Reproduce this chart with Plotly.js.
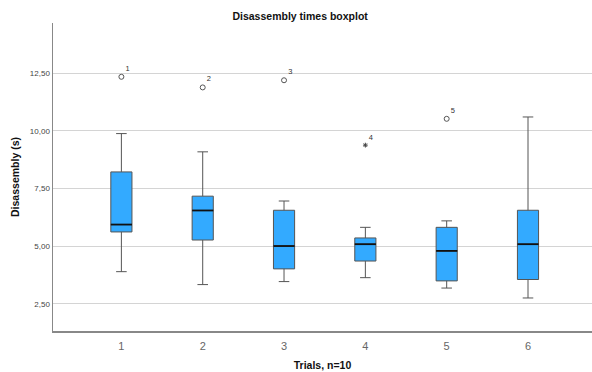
<!DOCTYPE html>
<html><head><meta charset="utf-8">
<script src="https://cdn.plot.ly/plotly-3.0.1.min.js"></script>
<style>html,body{margin:0;padding:0;background:#fff}#c{width:592px;height:372px}</style>
</head><body><div id="c"></div>
<script>
const trials = [1, 2, 3, 4, 5, 6];
const lowerWhisker = [3.90, 3.34, 3.47, 3.64, 3.19, 2.76];
const q1 = [5.62, 5.27, 4.02, 4.36, 3.50, 3.56];
const median = [5.94, 6.55, 5.01, 5.09, 4.80, 5.09];
const q3 = [8.22, 7.17, 6.56, 5.36, 5.82, 6.56];
const upperWhisker = [9.88, 9.09, 6.96, 5.82, 6.10, 10.60];
const outlierTrial = [1, 2, 3, 5];
const outlierValue = [12.34, 11.88, 12.19, 10.52];
const outlierLabel = ["1", "2", "3", "5"];
const extremeTrial = [4];
const extremeValue = [9.38];
const extremeLabel = ["4"];
const yTicks = [2.5, 5, 7.5, 10, 12.5];

const boxW = 0.26;
const traces = [];
trials.forEach((t, i) => {
  traces.push({
    type: 'box', x: [t], q1: [q1[i]], median: [median[i]], q3: [q3[i]],
    lowerfence: [lowerWhisker[i]], upperfence: [upperWhisker[i]],
    width: boxW, whiskerwidth: 0.5, boxpoints: false,
    fillcolor: '#33aaff', line: {color: '#555555', width: 1},
    showlegend: false, hoverinfo: 'skip'
  });
  traces.push({
    type: 'scatter', mode: 'lines',
    x: [t - boxW / 2, t + boxW / 2], y: [median[i], median[i]],
    line: {color: '#111111', width: 1.8}, showlegend: false, hoverinfo: 'skip'
  });
});
traces.push({
  type: 'scatter', mode: 'markers+text', x: outlierTrial, y: outlierValue,
  text: outlierLabel, textposition: 'top right',
  textfont: {family: 'Liberation Sans, Arial, sans-serif', size: 7.5, color: '#333'},
  marker: {symbol: 'circle-open', size: 5, color: '#555', line: {width: 1}},
  showlegend: false, hoverinfo: 'skip'
});
traces.push({
  type: 'scatter', mode: 'markers+text', x: extremeTrial, y: extremeValue,
  text: extremeLabel, textposition: 'top right',
  textfont: {family: 'Liberation Sans, Arial, sans-serif', size: 7.5, color: '#333'},
  marker: {symbol: 'asterisk-open', size: 4, color: '#444', line: {width: 1}},
  showlegend: false, hoverinfo: 'skip'
});

const layout = {
  width: 592, height: 372,
  margin: {l: 53, r: 0, t: 23, b: 41, pad: 0},
  paper_bgcolor: '#fff', plot_bgcolor: '#fff',
  separators: ',.',
  font: {family: 'Liberation Sans, Arial, sans-serif', color: '#333'},
  title: {text: '<b>Disassembly times boxplot</b>', x: 0.507, xanchor: 'center', y: 0.955, yanchor: 'middle',
          font: {size: 10.5, color: '#111'}},
  xaxis: {
    range: [0.159, 6.787], tickvals: trials, ticktext: trials.map(String),
    showgrid: false, zeroline: false, showline: true, linecolor: '#888', linewidth: 2,
    ticks: '', tickfont: {size: 11, color: '#666'}, ticklabelstandoff: 4,
    title: {text: '<b>Trials, n=10</b>', font: {size: 10.5, color: '#111'}, standoff: 10}
  },
  yaxis: {
    range: [1.33, 14.67], tickvals: yTicks, tickformat: '.2f',
    showgrid: true, gridcolor: '#d4d4d4', gridwidth: 1, zeroline: false,
    showline: true, linecolor: '#888', linewidth: 1.5, ticks: '',
    tickfont: {size: 8, color: '#444'},
    title: {text: '<b>Disassembly (s)</b>', font: {size: 10.5, color: '#111'}, standoff: 8}
  }
};
Plotly.newPlot('c', traces, layout, {displayModeBar: false, staticPlot: true});
</script></body></html>
